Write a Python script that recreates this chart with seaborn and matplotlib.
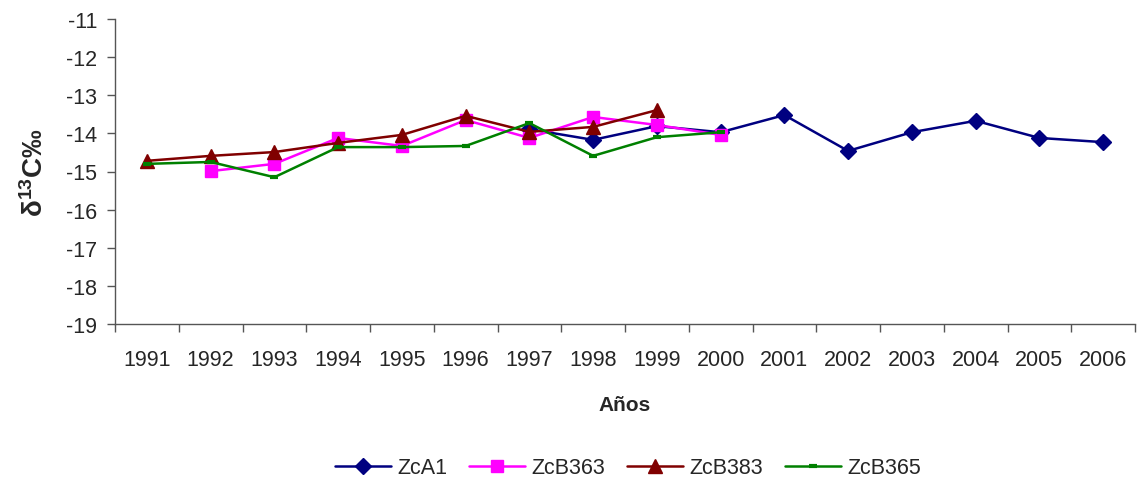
import numpy as np
import pandas as pd
import seaborn as sns
import matplotlib.pyplot as plt

years = [str(y) for y in range(1991, 2007)]

zca1 = [np.nan] * 6 + [-13.89, -14.17, -13.81, -13.97, -13.52, -14.46, -13.97, -13.67, -14.12, -14.23]
zcb363 = [np.nan, -14.99, -14.80, -14.12, -14.33, -13.65, -14.12, -13.57, -13.78, -14.04] + [np.nan] * 6
zcb383 = [-14.72, -14.59, -14.49, -14.25, -14.04, -13.54, -13.96, -13.83, -13.39] + [np.nan] * 7
zcb365 = [-14.80, -14.75, -15.15, -14.36, -14.36, -14.33, -13.73, -14.59, -14.10, -13.97] + [np.nan] * 6

series = {"ZcA1": zca1, "ZcB363": zcb363, "ZcB383": zcb383, "ZcB365": zcb365}
styles = {
    "ZcA1": dict(color="#000080", marker="D", markersize=8),
    "ZcB363": dict(color="#FF00FF", marker="s", markersize=9),
    "ZcB383": dict(color="#800000", marker="^", markersize=10),
    "ZcB365": dict(color="#008000", marker="_", markersize=6, markeredgewidth=3),
}

sns.set_style("white")
plt.rcParams["font.family"] = ["Liberation Sans", "DejaVu Sans"]
plt.rcParams["mathtext.default"] = "regular"

fig = plt.figure(figsize=(11.41, 4.85), dpi=100)
ax = fig.add_axes([115 / 1141, 1 - 325 / 485, 1020 / 1141, 305 / 485])

idx = np.arange(len(years))
for name, vals in series.items():
    df = pd.DataFrame({"x": idx, "y": vals}).dropna()
    st = styles[name]
    sns.lineplot(data=df, x="x", y="y", ax=ax, label=name, color=st["color"],
                 marker=st["marker"], markersize=st["markersize"],
                 markeredgewidth=st.get("markeredgewidth", 1),
                 markeredgecolor=st["color"], linewidth=1.8)

ax.set_xlim(-0.5, len(years) - 0.5)
ax.set_ylim(-19, -11)
ax.set_yticks(np.arange(-19, -10, 1))
ax.set_yticklabels([str(v) for v in range(-19, -10)], fontsize=15.5)
ax.set_xticks(np.arange(-0.5, len(years), 1))
ax.set_xticklabels([])
ax.set_xticks(idx, minor=True)
ax.set_xticklabels(years, minor=True, fontsize=15.5)
ax.tick_params(axis="x", which="major", bottom=True, direction="out", length=6,
               color="#555555", width=1)
ax.tick_params(axis="x", which="minor", bottom=True, length=0, pad=18)
ax.tick_params(axis="y", left=True, direction="out", length=6, color="#555555",
               width=1, pad=7)

for s in ["top", "right"]:
    ax.spines[s].set_visible(False)
for s in ["left", "bottom"]:
    ax.spines[s].set_color("#555555")
    ax.spines[s].set_linewidth(1)

ax.set_xlabel("Años", fontsize=15, fontweight="bold", labelpad=18)
ax.set_ylabel("δ$^{13}$C‰", fontsize=20, fontweight="bold", labelpad=12)

ax.legend(loc="center", bbox_to_anchor=(0.503, (325 - 469) / 305), ncol=4,
          frameon=False, fontsize=15.5, handlelength=2.6, columnspacing=1.0,
          handletextpad=0.3)

fig.savefig("out.png", dpi=100)
